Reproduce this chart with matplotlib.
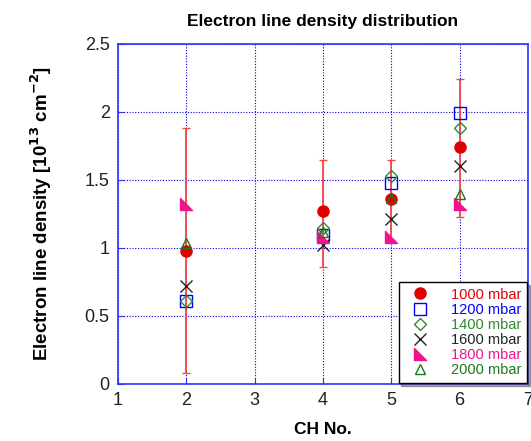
import matplotlib
matplotlib.use("Agg")
import matplotlib.pyplot as plt
import numpy as np
from matplotlib.path import Path

plt.rcParams['font.family'] = ['Liberation Sans', 'DejaVu Sans']

channels = [2, 4, 5, 6]
labels = ['1000 mbar', '1200 mbar', '1400 mbar', '1600 mbar', '1800 mbar', '2000 mbar']
d1000 = [0.98, 1.27, 1.36, 1.74]
d1200 = [0.61, 1.095, 1.475, 1.995]
d1400 = [0.61, 1.15, 1.53, 1.88]
d1600 = [0.72, 1.02, 1.21, 1.60]
d1800 = [1.32, 1.08, 1.08, 1.32]
d2000 = [1.04, 1.12, 1.37, 1.40]
err_low = [0.08, 0.86, 1.06, 1.23]
err_high = [1.88, 1.65, 1.647, 2.24]

fig = plt.figure(figsize=(5.31, 4.41), dpi=100)
ax = fig.add_axes([0.2222, 0.1293, 0.7722, 0.771])

x = np.array(channels)
lo = np.array(d1000) - np.array(err_low)
hi = np.array(err_high) - np.array(d1000)
ax.errorbar(x, d1000, yerr=[lo, hi], fmt='none', ecolor='#f04848', elinewidth=1.3,
            capsize=3, capthick=1.0, zorder=2)

tri = Path([(-0.5, 0.5), (-0.5, -0.5), (0.5, -0.5), (-0.5, 0.5)],
           [Path.MOVETO, Path.LINETO, Path.LINETO, Path.CLOSEPOLY])

ax.plot(x, d1000, 'o', color='#e00000', ms=8, ls='none', label=labels[0], zorder=3)
ax.plot(x, d1200, 's', mfc='none', mec='#0000ff', ms=8, mew=1.0, ls='none', label=labels[1], zorder=3)
ax.plot(x, d1400, 'D', mfc='none', mec='#338833', ms=6, mew=1.0, ls='none', label=labels[2], zorder=3)
ax.plot(x, d1600, 'x', color='#222222', ms=8, mew=1.0, ls='none', label=labels[3], zorder=3)
ax.plot(x, d1800, marker=tri, color='#f0148c', ms=9, ls='none', label=labels[4], zorder=3)
ax.plot(x, d2000, '^', mfc='none', mec='#1a7a1a', ms=7, mew=1.0, ls='none', label=labels[5], zorder=3)

ax.set_xlim(1, 7)
ax.set_ylim(0, 2.5)
ax.set_xticks([1, 2, 3, 4, 5, 6, 7])
ax.set_yticks([0, 0.5, 1, 1.5, 2, 2.5])
ax.set_yticklabels(['0', '0.5', '1', '1.5', '2', '2.5'])
ax.grid(True, color='#0000dd', linestyle=(0, (1, 1.5)), linewidth=0.8)
for s in ax.spines.values():
    s.set_color('#3030ff')
    s.set_linewidth(1.2)
ax.tick_params(axis='both', colors='#3030ff', labelcolor='#222222', labelsize=13,
               direction='in', length=4, pad=6)

ax.set_title('Electron line density distribution', fontsize=12.5, fontweight='bold', pad=13)
ax.set_xlabel('CH No.', fontsize=12.5, fontweight='bold', labelpad=9)
ax.set_ylabel(r'Electron line density [10$^{\mathbf{13}}$ cm$^{\mathbf{-2}}$]', fontsize=13.5,
              fontweight='bold', labelpad=22)

leg = ax.legend(loc='lower right', fontsize=10.5, frameon=True, fancybox=False, shadow=True,
                edgecolor='black', framealpha=1, handletextpad=1.0, labelspacing=0.08,
                borderaxespad=0.05, borderpad=0.4, handlelength=2.2)
colors = ['#e00000', '#0000ff', '#338833', '#222222', '#f0148c', '#1a7a1a']
for t, c in zip(leg.get_texts(), colors):
    t.set_color(c)

fig.savefig('out.png', dpi=100)
